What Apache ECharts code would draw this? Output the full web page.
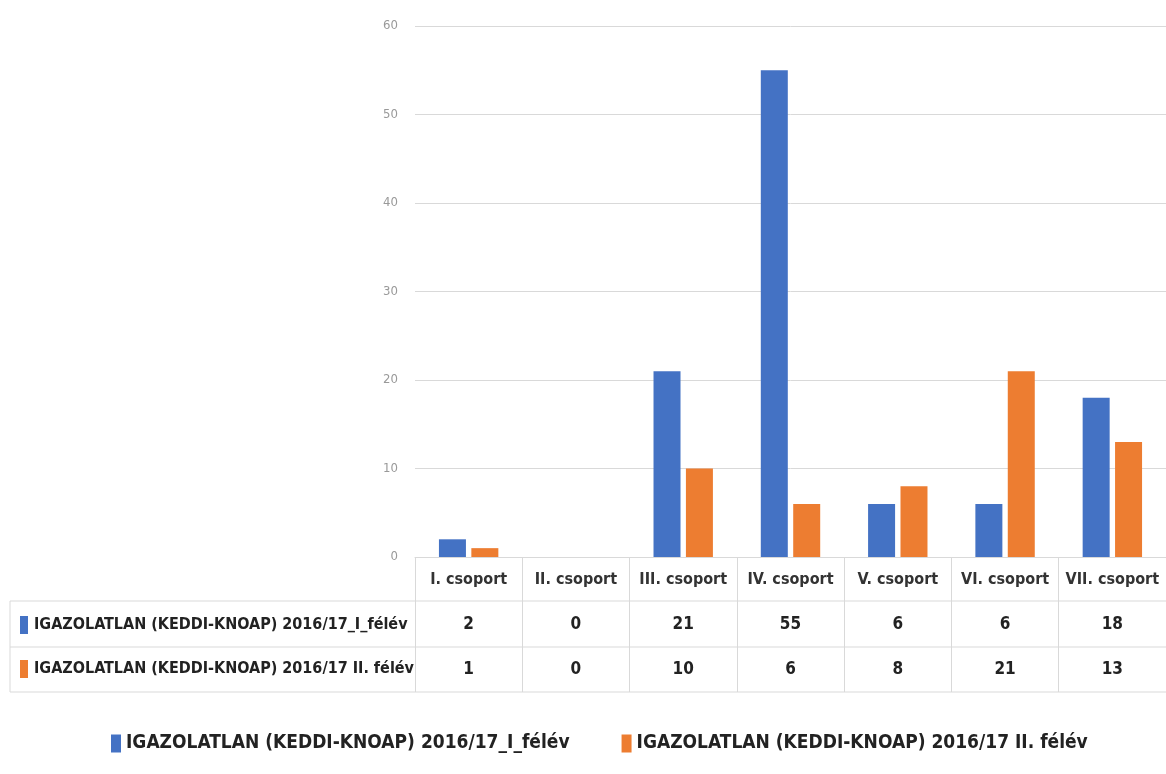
<!DOCTYPE html>
<html>
<head>
<meta charset="utf-8">
<script src="https://cdn.jsdelivr.net/npm/echarts@6/dist/echarts.min.js"></script>
<style>
html,body{margin:0;padding:0;background:#fff;}
#c{width:1166px;height:774px;}
</style>
</head>
<body>
<div id="c"></div>
<script>
const categories = ['I. csoport','II. csoport','III. csoport','IV. csoport','V. csoport','VI. csoport','VII. csoport'];
const seriesNames = ['IGAZOLATLAN (KEDDI-KNOAP) 2016/17_I_félév','IGAZOLATLAN (KEDDI-KNOAP) 2016/17 II. félév'];
const series1 = [2,0,21,55,6,6,18];
const series2 = [1,0,10,6,8,21,13];
const colors = ['#4472C4','#ED7D31'];

const FONT = '"Liberation Sans Narrow","DejaVu Sans Condensed","Arial Narrow",sans-serif';
const chart = echarts.init(document.getElementById('c'));

const gridLeft = 415, gridTop = 26, gridBottom = 217;
const row1Y = 625, row2Y = 669;

chart.setOption({
  animation:false,
  color:colors,
  grid:{left:gridLeft,right:0,top:gridTop,bottom:gridBottom,containLabel:false},
  legend:{
    bottom:16,left:106,
    itemWidth:10,itemHeight:18,itemGap:52,icon:'rect',
    textStyle:{fontFamily:FONT,fontSize:19,fontWeight:'bold',color:'#222'},
    data:seriesNames
  },
  xAxis:{
    type:'category',data:categories,
    axisLine:{show:true,lineStyle:{color:'#d9d9d9'}},
    axisTick:{show:true,length:135,lineStyle:{color:'#d9d9d9'}},
    axisLabel:{
      margin:0,interval:0,
      formatter:function(v,i){return '{h|'+v+'}\n{v|'+series1[i]+'}\n{v|'+series2[i]+'}';},
      rich:{
        h:{fontFamily:FONT,fontSize:16,fontWeight:'bold',color:'#333',lineHeight:45},
        v:{fontFamily:FONT,fontSize:17,fontWeight:'bold',color:'#222',lineHeight:45}
      }
    }
  },
  yAxis:{
    type:'value',min:0,max:60,interval:10,
    axisLine:{show:false},axisTick:{show:false},
    axisLabel:{margin:17,fontFamily:FONT,fontSize:13,color:'#999'},
    splitLine:{lineStyle:{color:'#d9d9d9'}}
  },
  series:[
    {name:seriesNames[0],type:'bar',data:series1,barWidth:27,barGap:'20%'},
    {name:seriesNames[1],type:'bar',data:series2,barWidth:27,barGap:'20%'}
  ],
  graphic:[
    {type:'line',shape:{x1:10,y1:601,x2:1166,y2:601},style:{stroke:'#d9d9d9',lineWidth:1}},
    {type:'line',shape:{x1:10,y1:647,x2:1166,y2:647},style:{stroke:'#d9d9d9',lineWidth:1}},
    {type:'line',shape:{x1:10,y1:692,x2:1166,y2:692},style:{stroke:'#d9d9d9',lineWidth:1}},
    {type:'line',shape:{x1:10,y1:601,x2:10,y2:692},style:{stroke:'#d9d9d9',lineWidth:1}},
    {type:'rect',shape:{x:20,y:row1Y-9,width:8,height:18},style:{fill:colors[0]}},
    {type:'rect',shape:{x:20,y:row2Y-9,width:8,height:18},style:{fill:colors[1]}},
    {type:'text',x:34,y:row1Y,style:{text:seriesNames[0],fontFamily:FONT,fontSize:16,fontWeight:'bold',fill:'#222',verticalAlign:'middle'}},
    {type:'text',x:34,y:row2Y,style:{text:seriesNames[1],fontFamily:FONT,fontSize:16,fontWeight:'bold',fill:'#222',verticalAlign:'middle'}}
  ]
});
</script>
</body>
</html>
